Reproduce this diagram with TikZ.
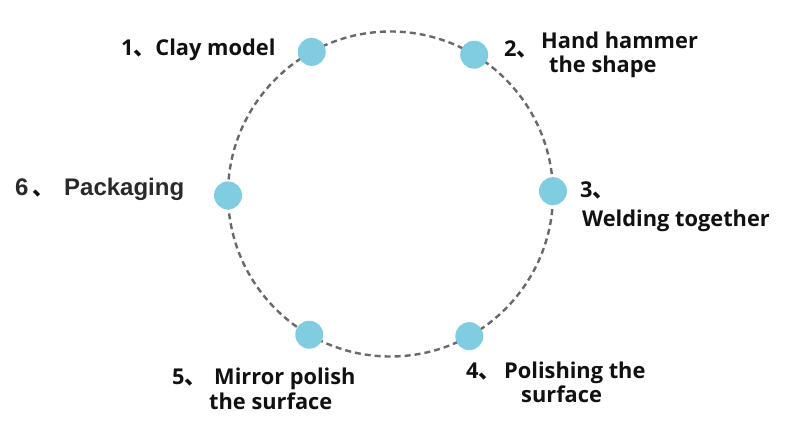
\documentclass[tikz,border=0pt]{standalone}
\usepackage{fontspec}
\usetikzlibrary{calc}
\setmainfont{Open Sans}
\newfontfamily\cjk{Noto Sans CJK SC}
\newfontfamily\arialb{Liberation Sans}
\definecolor{dotblue}{RGB}{128,204,224}
\definecolor{ringgray}{RGB}{105,105,105}
\definecolor{ink}{RGB}{17,17,17}
\tikzset{
  ring/.style={draw=ringgray, line width=2.4pt, dash pattern=on 6pt off 4pt},
  stepdot/.style={circle, fill=dotblue, inner sep=0pt, minimum size=28pt},
  lbl/.style={anchor=base west, inner sep=0pt, text=ink, font=\fontsize{21.8}{26}\selectfont\bfseries},
  lblb/.style={anchor=base west, inner sep=0pt, text=ink!90!white, font=\fontsize{24}{28}\selectfont\arialb\bfseries}
}
\begin{document}
\begin{tikzpicture}[x=1pt,y=-1pt]
\useasboundingbox (0,0) rectangle (800,438);
\coordinate (c) at (390.5,194);
\draw[ring] (c) circle[radius=162.5pt];
\node[stepdot] (d1) at ($(c)+(119:162.5pt)$) {};
\node[stepdot] (d2) at ($(c)+(59:162.5pt)$) {};
\node[stepdot] (d3) at ($(c)+(1:162.5pt)$) {};
\node[stepdot] (d4) at ($(c)+(-61:162.5pt)$) {};
\node[stepdot] (d5) at ($(c)+(-120:162.5pt)$) {};
\node[stepdot] (d6) at ($(c)+(180.5:162.5pt)$) {};
% 1
\node[lbl] (t1) at (121,56) {1{\cjk 、}Clay model};
% 2
\node[lbl] (n2) at (504,57) {2{\cjk 、}};
\node[lbl] (t2a) at (541,49) {Hand hammer};
\node[lbl] (t2b) at (549,73) {the shape};
% 3
\node[lbl] (n3) at (580,198) {3{\cjk 、}};
\node[lbl] (t3) at (582,227) {Welding together};
% 4
\node[lbl] (n4) at (466,378) {4{\cjk 、}};
\node[lbl] (t4a) at (504,378) {Polishing the};
\node[lbl] (t4b) at (521,402) {surface};
% 5
\node[lbl] (n5) at (172,384) {5{\cjk 、}};
\node[lbl] (t5a) at (214,384) {Mirror polish};
\node[lbl] (t5b) at (209,409) {the surface};
% 6
\node[lblb] (n6) at (15,196) {6};
\node[lbl] (c6) at (32,196) {\cjk 、};
\node[lblb] (t6) at (64,196) {Packaging};
\end{tikzpicture}
\end{document}
